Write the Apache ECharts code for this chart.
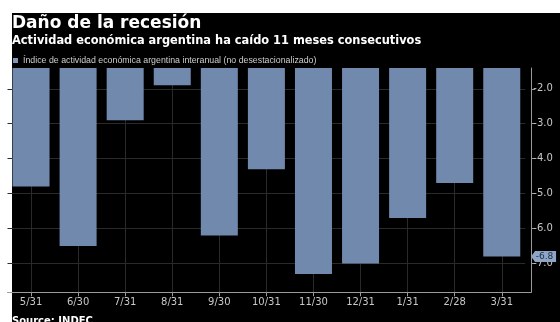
<!DOCTYPE html>
<html>
<head>
<meta charset="utf-8">
<script src="https://cdn.jsdelivr.net/npm/echarts@6/dist/echarts.min.js"></script>
<style>
html, body { margin: 0; padding: 0; background: #fff; }
#chart { width: 560px; height: 322px; }
</style>
</head>
<body>
<div id="chart"></div>
<script>
var categories = ['5/31', '6/30', '7/31', '8/31', '9/30', '10/31', '11/30', '12/31', '1/31', '2/28', '3/31']
var values = [-4.8, -6.5, -2.9, -1.9, -6.2, -4.3, -7.3, -7.0, -5.7, -4.7, -6.8]
var yTicks = [-7, -6, -5, -4, -3, -2]
var seriesName = 'Índice de actividad económica argentina interanual (no desestacionalizado)'
var lastValue = values[values.length - 1]

var font = 'DejaVu Sans'
var gridColor = '#2a2a2a'
var axisColor = '#9a9a9a'
var labelColor = '#c8c8c8'

var option = {
  backgroundColor: '#fff',
  animation: false,
  title: {
    text: 'Daño de la recesión',
    subtext: 'Actividad económica argentina ha caído 11 meses consecutivos',
    left: 12,
    top: 15,
    padding: 0,
    itemGap: 4,
    textStyle: { color: '#fff', fontSize: 17, fontWeight: 'bold', fontFamily: font },
    subtextStyle: { color: '#fff', fontSize: 11.4, fontWeight: 'bold', fontFamily: font }
  },
  legend: {
    data: [seriesName],
    left: 13,
    top: 56,
    padding: 0,
    icon: 'rect',
    itemWidth: 5,
    itemHeight: 5,
    itemStyle: { color: '#8296b8' },
    textStyle: { color: '#cfcfcf', fontSize: 8.8, fontFamily: 'Liberation Sans' }
  },
  grid: {
    left: 7.5,
    right: 34.7,
    top: 68,
    bottom: 29.7,
    containLabel: false,
    outerBoundsMode: 'none'
  },
  xAxis: {
    type: 'category',
    data: categories,
    axisLine: { show: true, lineStyle: { color: axisColor } },
    axisTick: { show: true, alignWithLabel: true, length: 4, lineStyle: { color: axisColor } },
    axisLabel: { color: labelColor, fontSize: 10, fontFamily: font, margin: 5 },
    splitLine: { show: true, alignWithLabel: true, lineStyle: { color: gridColor } }
  },
  yAxis: {
    type: 'value',
    position: 'right',
    offset: 6,
    min: -7.825,
    max: -1.405,
    axisLine: { show: true, lineStyle: { color: axisColor } },
    axisTick: { show: true, length: 4, customValues: yTicks, lineStyle: { color: axisColor } },
    axisLabel: {
      color: labelColor,
      fontSize: 10,
      fontFamily: font,
      margin: 2,
      customValues: yTicks,
      formatter: function(v) {
        return v.toFixed(1)
      }
    },
    splitLine: { show: true, lineStyle: { color: gridColor } }
  },
  series: [
    {
      name: seriesName,
      type: 'bar',
      barWidth: 37,
      clip: true,
      itemStyle: { color: '#7189ad' },
      data: values,
      markPoint: {
        symbol: 'path://M0,5 L4,0 L25,0 L25,10 L4,10 Z',
        symbolSize: [25, 11],
        symbolOffset: [41.8, 0],
        itemStyle: { color: '#8fa5c6' },
        label: {
          show: true,
          position: 'inside',
          offset: [1, 0],
          color: '#1c2b45',
          fontSize: 9,
          fontFamily: font,
          formatter: function(p) {
            return p.value.toFixed(1)
          }
        },
        data: [{ coord: [categories[categories.length - 1], lastValue], value: lastValue }]
      }
    }
  ],
  graphic: [
    {
      type: 'rect',
      left: 12,
      top: 13,
      z: -100,
      shape: { width: 548, height: 309 },
      style: { fill: '#000' }
    },
    {
      type: 'line',
      z: 5,
      shape: { x1: 525, y1: 292.5, x2: 531.5, y2: 292.5 },
      style: { stroke: axisColor, lineWidth: 1 }
    },
    {
      type: 'text',
      left: 12,
      top: 316,
      style: { text: 'Source: INDEC', fill: '#fff', font: 'bold 10px "DejaVu Sans"' }
    }
  ]
}

var chart = echarts.init(document.getElementById('chart'))
chart.setOption(option, true)
window.addEventListener('resize', () => {
  chart.resize()
})
</script>
</body>
</html>
